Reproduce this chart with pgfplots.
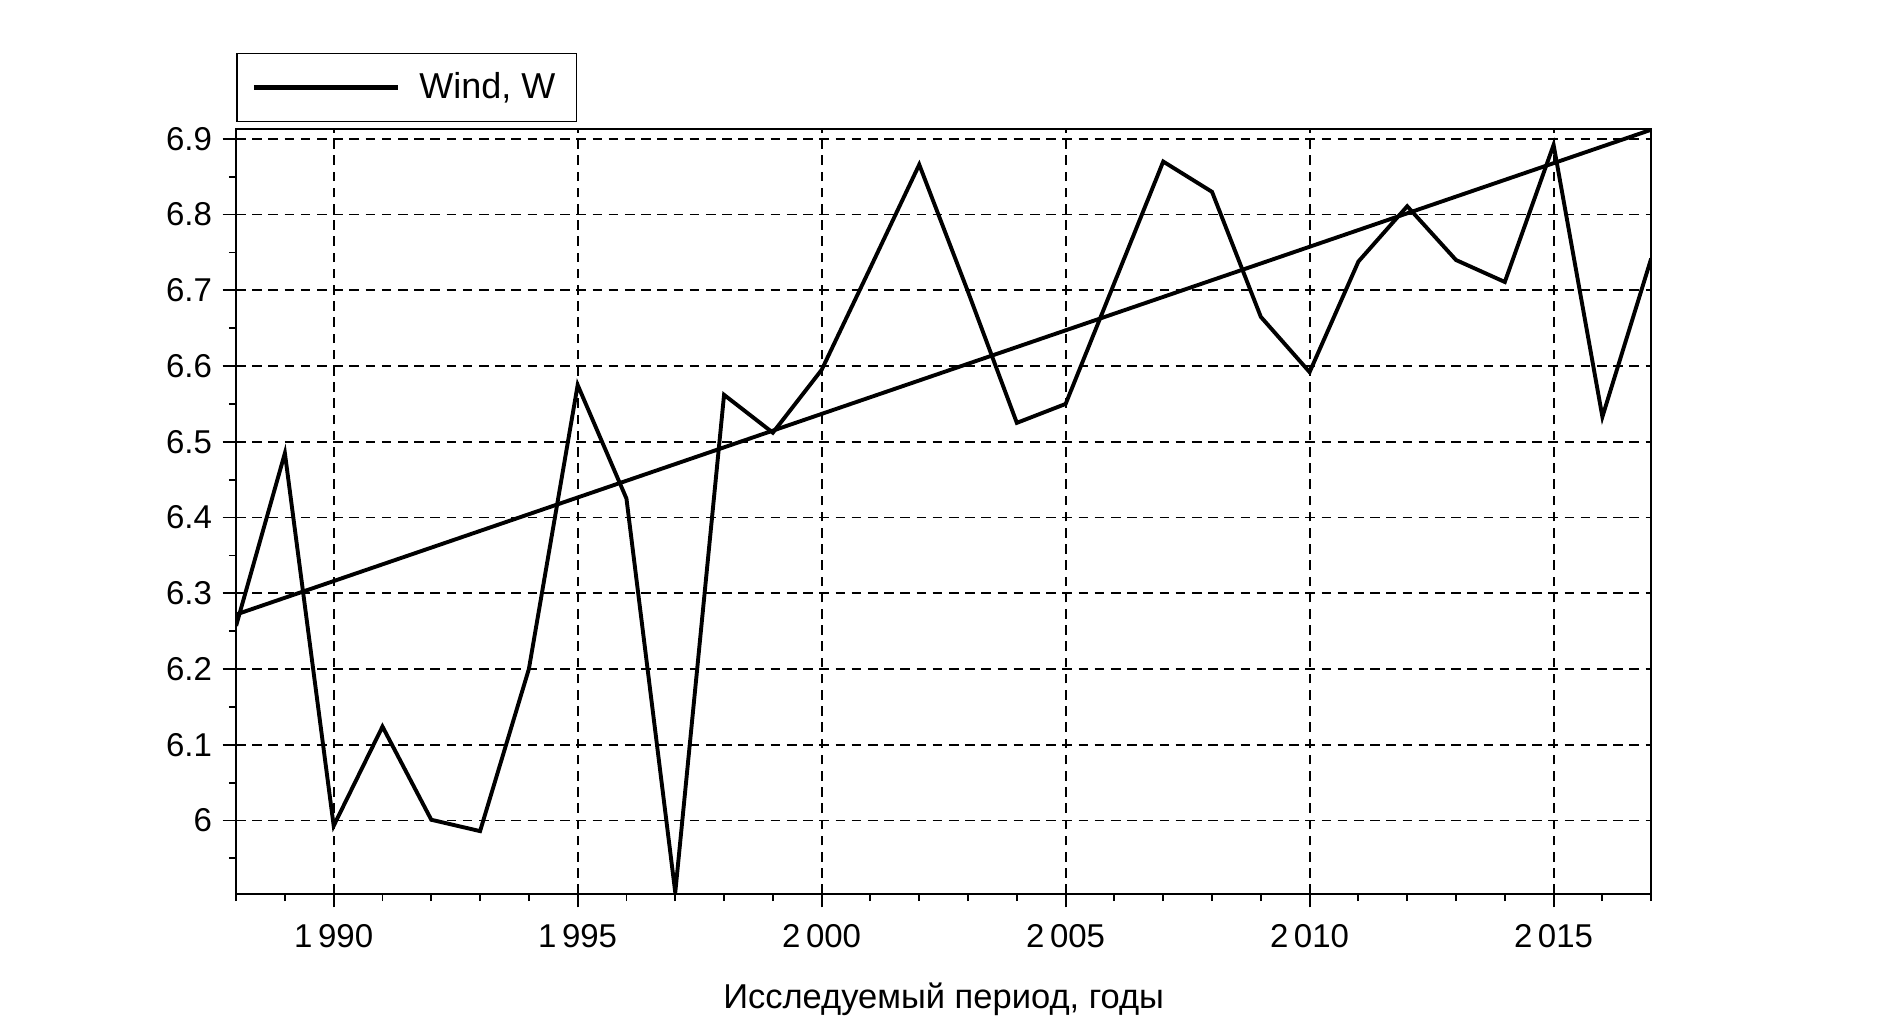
\documentclass[border=0pt]{standalone}
\usepackage{fontspec}
\setmainfont{Liberation Sans}
\usepackage{pgfplots}
\pgfplotsset{compat=1.18}
\begin{document}
\begin{tikzpicture}
\path[use as bounding box] (-78.7pt,-44pt) rectangle (551.3pt,298pt);
\begin{axis}[
  scale only axis,
  width=471.7pt, height=255pt,
  xmin=1988, xmax=2017, ymin=5.903, ymax=6.913,
  xtick={1990,1995,2000,2005,2010,2015},
  xticklabels={1\,990,1\,995,2\,000,2\,005,2\,010,2\,015},
  minor xtick={1988,1989,...,2017},
  ytick={6,6.1,...,6.95},
  minor ytick={5.95,6.05,...,6.9},
  yticklabels={6,6.1,6.2,6.3,6.4,6.5,6.6,6.7,6.8,6.9},
  tick align=outside,
  tick pos=left,
  major tick length=4.5pt,
  minor tick length=2.4pt,
  tick style={black, line width=0.6pt},
  grid=major,
  major grid style={black, line width=0.6pt, dash pattern=on 3.2pt off 2.2pt},
  axis line style={line width=0.6pt},
  ticklabel style={font=\fontsize{11}{13}\selectfont},
  xticklabel style={yshift=-2pt},
  /pgf/number format/assume math mode=true,
  xlabel={Исследуемый период, годы},
  xlabel style={font=\fontsize{11.5}{13}\selectfont, yshift=-5pt},
  legend style={at={(0,1)}, anchor=south west, yshift=2.3pt, draw=black, line width=0.5pt,
    font=\fontsize{12}{14}\selectfont, inner xsep=5pt, inner ysep=4.2pt},
  legend cell align=left,
  legend image code/.code={\draw[black, solid, line width=1.4pt] (0pt,0pt) -- (48pt,0pt); \path (52.5pt,0pt);},
]
\addplot[black, line width=1.3pt, line join=miter] coordinates {
(1988,6.257) (1989,6.485) (1990,5.993) (1991,6.124) (1992,6.001) (1993,5.986)
(1994,6.200) (1995,6.575) (1996,6.425) (1997,5.905) (1998,6.562) (1999,6.512)
(2000,6.595) (2001,6.730) (2002,6.866) (2003,6.698) (2004,6.525) (2005,6.550)
(2006,6.710) (2007,6.870) (2008,6.830) (2009,6.665) (2010,6.592) (2011,6.738)
(2012,6.811) (2013,6.740) (2014,6.711) (2015,6.892) (2016,6.533) (2017,6.742)
};
\addlegendentry{Wind, W}
\addplot[black, line width=1.3pt, forget plot] coordinates {(1988,6.272) (2017,6.912)};
\end{axis}
\end{tikzpicture}
\end{document}
